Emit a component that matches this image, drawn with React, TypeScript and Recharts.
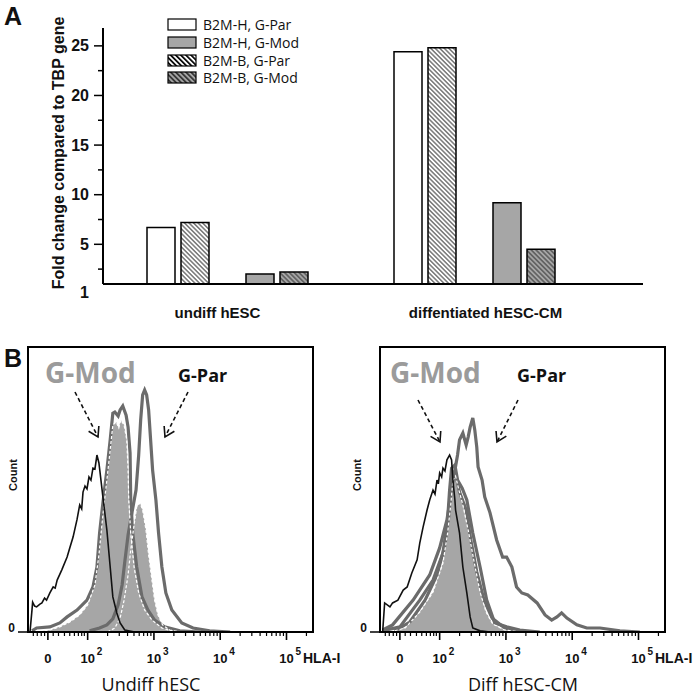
import React from 'react';
import { BarChart, Bar, ComposedChart, Area, Line, XAxis, YAxis, Legend, ReferenceArea } from 'recharts';

// ---------- panel A: fold change vs TBP ----------
const categories = ['undiff hESC', 'diffentiated hESC-CM'];
const b2mH_gPar = [6.7, 24.4];
const b2mB_gPar = [7.2, 24.8];
const b2mH_gMod = [2.0, 9.2];
const b2mB_gMod = [2.2, 4.5];
const foldTicks = [1, 5, 10, 15, 20, 25];
const foldMinorTicks = [2.5, 7.5, 12.5, 17.5, 22.5];

// ---------- panel B: HLA-I histograms ----------
// x is in display units of the biexponential axis: 0 -> "0", 0.6 -> 10^2, 1.6 -> 10^3 ...
// y is % of the panel height (Count)
const flowTicks = [0, 0.6, 1.6, 2.6, 3.6];
const flowTickExp = ['', '2', '3', '4', '5'];
const flowLinearMinor = [-0.22, -0.16, -0.1, -0.05, 0.08, 0.16, 0.25, 0.33, 0.4, 0.46, 0.51, 0.55];

type Pt = [number, number];

const undiffIso: Pt[] = [[-0.27, 0], [-0.24, 7.7], [-0.23, 10.5], [-0.2, 9.1], [-0.17, 8.8], [-0.12, 9.8], [-0.09, 10.2], [-0.05, 11.9], [-0.02, 11.2], [0.03, 13.7], [0.08, 15.8], [0.11, 15.4], [0.14, 18.2], [0.21, 21.8], [0.29, 26.3], [0.33, 29.5], [0.38, 33.3], [0.44, 39.5], [0.48, 44.6], [0.51, 43.2], [0.53, 49.1], [0.56, 51.2], [0.59, 50.2], [0.62, 54.4], [0.65, 53.3], [0.68, 57.5], [0.71, 57.2], [0.74, 62.1], [0.77, 59.3], [0.79, 55.4], [0.83, 47.4], [0.89, 35.8], [0.94, 22.8], [0.98, 12.3], [1.04, 6.7], [1.09, 3.2], [1.16, 0.7], [1.31, 0]];
const undiffModLine: Pt[] = [[-0.24, 0.4], [-0.17, 1.4], [0.03, 1.8], [0.18, 3.2], [0.29, 5.3], [0.44, 7.7], [0.59, 11.2], [0.68, 15.8], [0.74, 22.8], [0.78, 34.7], [0.83, 45.3], [0.89, 56.8], [0.94, 67.4], [0.98, 76.8], [1.01, 77.2], [1.06, 75.8], [1.09, 77.9], [1.13, 79.3], [1.18, 76.1], [1.21, 71.9], [1.24, 62.8], [1.25, 46.3], [1.28, 34.7], [1.34, 22.8], [1.42, 12.3], [1.51, 7.7], [1.61, 4.2], [1.76, 1.8], [1.99, 0.4], [2.29, 0]];
const undiffModFill: Pt[] = [[-0.2, 0], [0.03, 0.7], [0.18, 1.8], [0.33, 3.5], [0.48, 6], [0.6, 9.5], [0.71, 16.5], [0.77, 27], [0.83, 41.1], [0.89, 53.3], [0.94, 63.9], [0.98, 72.6], [1.03, 73.7], [1.07, 71.6], [1.1, 74.4], [1.15, 72.6], [1.19, 67.4], [1.21, 56.8], [1.22, 46.3], [1.25, 34.7], [1.3, 22.8], [1.37, 13.7], [1.46, 7.7], [1.57, 4.2], [1.72, 1.4], [1.92, 0]];
const undiffParLine: Pt[] = [[0.63, 0.4], [0.78, 1.4], [0.89, 2.5], [0.98, 4.6], [1.06, 9.5], [1.12, 16.5], [1.16, 24.6], [1.21, 34], [1.27, 42.1], [1.33, 49.8], [1.37, 62.1], [1.4, 74.4], [1.43, 83.2], [1.46, 84.9], [1.49, 83.2], [1.52, 77.9], [1.55, 67.4], [1.58, 56.8], [1.63, 46.3], [1.67, 34.7], [1.72, 22.8], [1.78, 13.7], [1.87, 7.7], [2.02, 3.2], [2.19, 1.4], [2.44, 0.4], [2.75, 0]];
const undiffParFill: Pt[] = [[0.9, 0], [1.01, 1.4], [1.09, 4.9], [1.15, 11.2], [1.21, 20], [1.25, 28.8], [1.3, 37.5], [1.34, 43.9], [1.39, 45.3], [1.43, 42.8], [1.48, 35.8], [1.52, 27], [1.57, 18.2], [1.61, 11.2], [1.66, 6], [1.73, 2.5], [1.84, 0.7], [1.99, 0]];

const diffIso: Pt[] = [[-0.26, 0], [-0.23, 10.2], [-0.15, 8.8], [-0.11, 10.2], [-0.03, 11.2], [0.05, 14.7], [0.11, 15.8], [0.18, 20.7], [0.26, 25.3], [0.3, 31.2], [0.35, 36.8], [0.41, 42.8], [0.45, 46.3], [0.5, 49.8], [0.53, 48.4], [0.56, 53.3], [0.58, 52], [0.6, 55.8], [0.63, 54.4], [0.65, 57.5], [0.68, 56.5], [0.71, 60.4], [0.75, 62.1], [0.78, 60.4], [0.8, 53.3], [0.83, 46.3], [0.84, 42.8], [0.9, 34.7], [0.95, 22.8], [1.01, 13.7], [1.06, 5.3], [1.1, 1.4], [1.21, 0.4], [1.36, 0]];
const diffParLine: Pt[] = [[-0.26, 0.7], [-0.11, 2.5], [0.2, 11.2], [0.45, 20], [0.6, 29.5], [0.71, 39.3], [0.78, 49.8], [0.83, 56.8], [0.87, 62.1], [0.9, 67.4], [0.95, 69.8], [1.0, 65.6], [1.03, 68.4], [1.06, 71.9], [1.1, 75.1], [1.13, 70.9], [1.16, 64.9], [1.18, 57.9], [1.24, 53.3], [1.28, 47.4], [1.36, 41.8], [1.46, 32.3], [1.55, 26.3], [1.61, 26.3], [1.69, 22.8], [1.76, 15.8], [1.84, 13.7], [1.93, 13], [2.07, 10.2], [2.19, 6], [2.29, 4.2], [2.37, 5.3], [2.44, 6.7], [2.52, 4.9], [2.67, 2.5], [2.82, 1.4], [3.02, 1.4], [3.32, 0.4], [3.62, 0]];
const diffModLine: Pt[] = [[-0.26, 0.4], [0, 1.8], [0.3, 11.2], [0.5, 18.2], [0.65, 27.7], [0.72, 39.3], [0.75, 49.8], [0.78, 57.5], [0.83, 58.6], [0.87, 53.3], [0.94, 50.5], [1.01, 46.3], [1.1, 34.7], [1.21, 22.8], [1.31, 11.2], [1.43, 3.2], [1.61, 1.8], [1.81, 0.7], [2.11, 0]];
const diffModLine2: Pt[] = [[-0.08, 0.4], [0.15, 3.5], [0.38, 11.2], [0.56, 20], [0.68, 30.5], [0.74, 41.1], [0.78, 51.6], [0.83, 56.8], [0.9, 49.1], [1.0, 42.8], [1.07, 32.3], [1.16, 21.1], [1.27, 11.2], [1.39, 4.9], [1.58, 1.4], [1.81, 0.4]];
const diffModFill: Pt[] = [[-0.15, 0], [0.08, 1.4], [0.3, 7], [0.5, 14], [0.65, 24.2], [0.72, 34.7], [0.77, 45.3], [0.8, 53.3], [0.84, 54.7], [0.89, 49.8], [0.95, 44.6], [1.03, 35.8], [1.12, 24.6], [1.21, 14], [1.3, 7], [1.4, 2.8], [1.58, 0.7], [1.81, 0]];

const ARIAL = '"Liberation Sans", Arial, sans-serif';
const SANS = '"Open Sans", "Noto Sans", sans-serif';
const GRAY = '#a6a6a6';
const OUTLINE = '#6b6b6b';

const barData = categories.map((name, i) => ({
  name,
  hPar: b2mH_gPar[i],
  bPar: b2mB_gPar[i],
  gap: null,
  hMod: b2mH_gMod[i],
  bMod: b2mB_gMod[i],
}));

const legendItems = [
  { name: 'B2M-H, G-Par', fill: '#ffffff' },
  { name: 'B2M-H, G-Mod', fill: GRAY },
  { name: 'B2M-B, G-Par', fill: 'url(#lgHatchWhite)' },
  { name: 'B2M-B, G-Mod', fill: 'url(#lgHatchGray)' },
];

// log minor ticks for each decade + the compressed linear zone near 0
const flowMinor = [
  ...flowLinearMinor,
  ...[0.6, 1.6, 2.6, 3.6].flatMap((d) =>
    [2, 3, 4, 5, 6, 7, 8, 9].map((k) => +(d + Math.log10(k)).toFixed(3))
  ),
].filter((v) => v < 4);
const flowAllTicks = [...flowTicks, ...flowMinor].sort((a, b) => a - b);

const pts = (a: Pt[]) => a.map(([t, c]) => ({ t, c }));

const FoldTick = (props: any) => {
  const { x, y, payload } = props;
  const v = payload.value;
  const major = foldTicks.includes(v);
  return (
    <g>
      {v !== 1 && <line x1={x - (major ? 9 : 5)} x2={x} y1={y} y2={y} stroke="#000" strokeWidth={1.5} />}
      {major && (
        <text x={x - 14} y={v === 1 ? y + 8 : y} textAnchor="end" dominantBaseline="central"
          fontFamily={ARIAL} fontWeight="bold" fontSize={16} fill="#111">{v}</text>
      )}
    </g>
  );
};

const CategoryTick = (props: any) => {
  const { x, y, payload, index } = props;
  const shift = index === 0 ? -10 : 11;
  return (
    <text x={x + shift} y={y + 28} textAnchor="middle" dominantBaseline="central"
      fontFamily={ARIAL} fontWeight="bold" fontSize={15} fill="#111">{payload.value}</text>
  );
};

const FlowTick = (props: any) => {
  const { x, y, payload } = props;
  const idx = flowTicks.indexOf(payload.value);
  if (idx < 0) return <line x1={x} x2={x} y1={y} y2={y + 4} stroke="#000" strokeWidth={1.2} />;
  return (
    <g fontFamily={ARIAL} fontWeight="bold" fill="#111">
      <line x1={x} x2={x} y1={y} y2={y + 8} stroke="#000" strokeWidth={1.6} />
      <text x={x} y={y + 31} textAnchor="middle" fontSize={13}>{idx === 0 ? '0' : '10'}</text>
      {idx > 0 && <text x={x + 9} y={y + 23} fontSize={10}>{flowTickExp[idx]}</text>}
    </g>
  );
};

const CountTick = (props: any) => {
  const { x, y } = props;
  return (
    <g>
      <line x1={x - 10} x2={x} y1={y} y2={y} stroke="#000" strokeWidth={1.5} />
      <text x={x - 13} y={y - 4} textAnchor="end" dominantBaseline="central"
        fontFamily={ARIAL} fontWeight="bold" fontSize={12} fill="#111">0</text>
    </g>
  );
};

const LegendBox = () => (
  <div style={{ fontFamily: SANS, fontSize: 14, color: '#111' }}>
    <svg width={0} height={0} style={{ position: 'absolute' }}>
      <defs>
        <pattern id="lgHatchWhite" patternUnits="userSpaceOnUse" width={3.6} height={3.6} patternTransform="rotate(-45)">
          <rect width={3.6} height={3.6} fill="#fff" />
          <line x1={1.8} x2={1.8} y1={0} y2={3.6} stroke="#000" strokeWidth={1.7} />
        </pattern>
        <pattern id="lgHatchGray" patternUnits="userSpaceOnUse" width={3.6} height={3.6} patternTransform="rotate(-45)">
          <rect width={3.6} height={3.6} fill={GRAY} />
          <line x1={1.8} x2={1.8} y1={0} y2={3.6} stroke="#222" strokeWidth={1.5} />
        </pattern>
      </defs>
    </svg>
    {legendItems.map((it) => (
      <div key={it.name} style={{ display: 'flex', alignItems: 'center', height: 17.7 }}>
        <svg width={30} height={13} style={{ marginRight: 6 }}>
          <rect x={1} y={1} width={28} height={11} fill={it.fill} stroke="#000" strokeWidth={1.2} />
        </svg>
        <span>{it.name}</span>
      </div>
    ))}
  </div>
);

const FlowPanel = ({ left, iso, fills, outlines }: { left: number; iso: Pt[]; fills: Pt[][]; outlines: Pt[][] }) => (
  <div style={{ position: 'absolute', left, top: 340 }}>
    <ComposedChart width={350} height={358} margin={{ top: 7, right: 37, bottom: 26, left: 8 }}>
      <XAxis type="number" dataKey="t" domain={[-0.3, 4]} allowDataOverflow ticks={flowAllTicks} interval={0}
        tick={FlowTick} tickLine={false} tickSize={0} tickMargin={0} height={40}
        axisLine={{ stroke: '#000', strokeWidth: 2 }} />
      <YAxis type="number" domain={[0, 100]} allowDataOverflow ticks={[0]} width={20} interval={0}
        tick={CountTick} tickLine={false} tickSize={0} tickMargin={0}
        axisLine={{ stroke: '#000', strokeWidth: 2 }} />
      {fills.map((f, i) => (
        <Area key={'fill' + i} data={pts(f)} dataKey="c" type="linear" fill={GRAY} fillOpacity={1}
          stroke="none" isAnimationActive={false} />
      ))}
      {outlines.map((o, i) => (
        <Line key={'out' + i} data={pts(o)} dataKey="c" type="linear" stroke={OUTLINE} strokeWidth={3.2}
          dot={false} activeDot={false} isAnimationActive={false} />
      ))}
      {fills.map((f, i) => (
        <Line key={'edge' + i} data={pts(f)} dataKey="c" type="linear" stroke="#fff" strokeWidth={1.2}
          strokeDasharray="3 2" dot={false} activeDot={false} isAnimationActive={false} />
      ))}
      <Line data={pts(iso)} dataKey="c" type="linear" stroke="#111" strokeWidth={1.6}
        dot={false} activeDot={false} isAnimationActive={false} />
      <ReferenceArea x1={-0.3} x2={4} y1={0} y2={100} ifOverflow="visible" fill="none" fillOpacity={0}
        stroke="#000" strokeWidth={2} />
    </ComposedChart>
  </div>
);

const DashArrow = ({ x1, y1, x2, y2 }: { x1: number; y1: number; x2: number; y2: number }) => {
  const a = Math.atan2(y2 - y1, x2 - x1);
  const h = 11;
  const p1 = `${x2 - h * Math.cos(a - 0.55)},${y2 - h * Math.sin(a - 0.55)}`;
  const p2 = `${x2 - h * Math.cos(a + 0.55)},${y2 - h * Math.sin(a + 0.55)}`;
  return (
    <g stroke="#111" strokeWidth={1.6} fill="none">
      <line x1={x1} y1={y1} x2={x2} y2={y2} strokeDasharray="4 3" />
      <polyline points={`${p1} ${x2},${y2} ${p2}`} />
    </g>
  );
};

export default function App() {
  return (
    <div style={{ position: 'absolute', left: 0, top: 0, width: 700, height: 698, background: '#fff', overflow: 'hidden' }}>
      <div style={{ position: 'absolute', left: 0, top: 0 }}>
        <BarChart width={700} height={340} data={barData} barGap={6}
          margin={{ top: 28, right: 57, bottom: 16, left: 53 }}>
          <defs>
            <pattern id="hatchWhite" patternUnits="userSpaceOnUse" width={3.2} height={3.2} patternTransform="rotate(-45)">
              <rect width={3.2} height={3.2} fill="#fff" />
              <line x1={1.6} x2={1.6} y1={0} y2={3.2} stroke="#333" strokeWidth={1} />
            </pattern>
            <pattern id="hatchGray" patternUnits="userSpaceOnUse" width={3.4} height={3.4} patternTransform="rotate(-45)">
              <rect width={3.4} height={3.4} fill={GRAY} />
              <line x1={1.7} x2={1.7} y1={0} y2={3.4} stroke="#333" strokeWidth={1} />
            </pattern>
          </defs>
          <XAxis dataKey="name" interval={0} tick={CategoryTick} tickLine={false} tickSize={0} tickMargin={0}
            height={40} padding={{ left: 1, right: 45 }} axisLine={{ stroke: '#000', strokeWidth: 2 }} />
          <YAxis type="number" domain={[1, 26.8]} allowDataOverflow width={50} interval={0}
            ticks={[...foldTicks, ...foldMinorTicks].sort((a, b) => a - b)}
            tick={FoldTick} tickLine={false} tickSize={0} tickMargin={0}
            axisLine={{ stroke: '#000', strokeWidth: 2 }} />
          <Legend layout="vertical" align="center" verticalAlign="middle"
            wrapperStyle={{ left: 167, top: 16, width: 180 }} content={() => <LegendBox />} />
          <Bar dataKey="hPar" name="B2M-H, G-Par" barSize={28} fill="#fff" stroke="#000" strokeWidth={1.5} isAnimationActive={false} />
          <Bar dataKey="bPar" name="B2M-B, G-Par" barSize={28} fill="url(#hatchWhite)" stroke="#000" strokeWidth={1.5} isAnimationActive={false} />
          <Bar dataKey="gap" barSize={25} fill="none" legendType="none" isAnimationActive={false} />
          <Bar dataKey="hMod" name="B2M-H, G-Mod" barSize={28} fill={GRAY} stroke="#000" strokeWidth={1.5} isAnimationActive={false} />
          <Bar dataKey="bMod" name="B2M-B, G-Mod" barSize={28} fill="url(#hatchGray)" stroke="#000" strokeWidth={1.5} isAnimationActive={false} />
        </BarChart>
      </div>

      <FlowPanel left={0} iso={undiffIso} fills={[undiffModFill, undiffParFill]} outlines={[undiffModLine, undiffParLine]} />
      <FlowPanel left={352} iso={diffIso} fills={[diffModFill]} outlines={[diffModLine2, diffModLine, diffParLine]} />

      <svg width={700} height={698} style={{ position: 'absolute', left: 0, top: 0, pointerEvents: 'none' }}>
        <text x={4} y={25} fontFamily={ARIAL} fontWeight="bold" fontSize={25} fill="#111">A</text>
        <text x={4} y={367} fontFamily={ARIAL} fontWeight="bold" fontSize={25} fill="#111">B</text>
        <text transform="translate(58,153) rotate(-90)" textAnchor="middle" dominantBaseline="central"
          fontFamily={ARIAL} fontWeight="bold" fontSize={16} fill="#111">Fold change compared to TBP gene</text>

        <text x={45} y={383} fontFamily={SANS} fontWeight="bold" fontSize={28} fill="#9b9b9b">G-Mod</text>
        <text x={178} y={382} fontFamily={SANS} fontWeight="bold" fontSize={18} fill="#111">G-Par</text>
        <DashArrow x1={75} y1={392} x2={98} y2={437} />
        <DashArrow x1={188} y1={392} x2={165} y2={437} />

        <text x={390} y={383} fontFamily={SANS} fontWeight="bold" fontSize={28} fill="#9b9b9b">G-Mod</text>
        <text x={517} y={382} fontFamily={SANS} fontWeight="bold" fontSize={18} fill="#111">G-Par</text>
        <DashArrow x1={418} y1={400} x2={440} y2={442} />
        <DashArrow x1={518} y1={400} x2={497} y2={442} />

        <text transform="translate(13,475) rotate(-90)" textAnchor="middle" dominantBaseline="central"
          fontFamily={ARIAL} fontWeight="bold" fontSize={11} fill="#111">Count</text>
        <text transform="translate(357,475) rotate(-90)" textAnchor="middle" dominantBaseline="central"
          fontFamily={ARIAL} fontWeight="bold" fontSize={11} fill="#111">Count</text>

        <text x={303} y={663} fontFamily={ARIAL} fontWeight="bold" fontSize={14} fill="#111">HLA-I</text>
        <text x={655} y={663} fontFamily={ARIAL} fontWeight="bold" fontSize={14} fill="#111">HLA-I</text>
        <text x={151} y={691} textAnchor="middle" fontFamily={SANS} fontSize={18} fill="#111">Undiff hESC</text>
        <text x={523} y={691} textAnchor="middle" fontFamily={SANS} fontSize={18} fill="#111">Diff hESC-CM</text>
      </svg>
    </div>
  );
}
